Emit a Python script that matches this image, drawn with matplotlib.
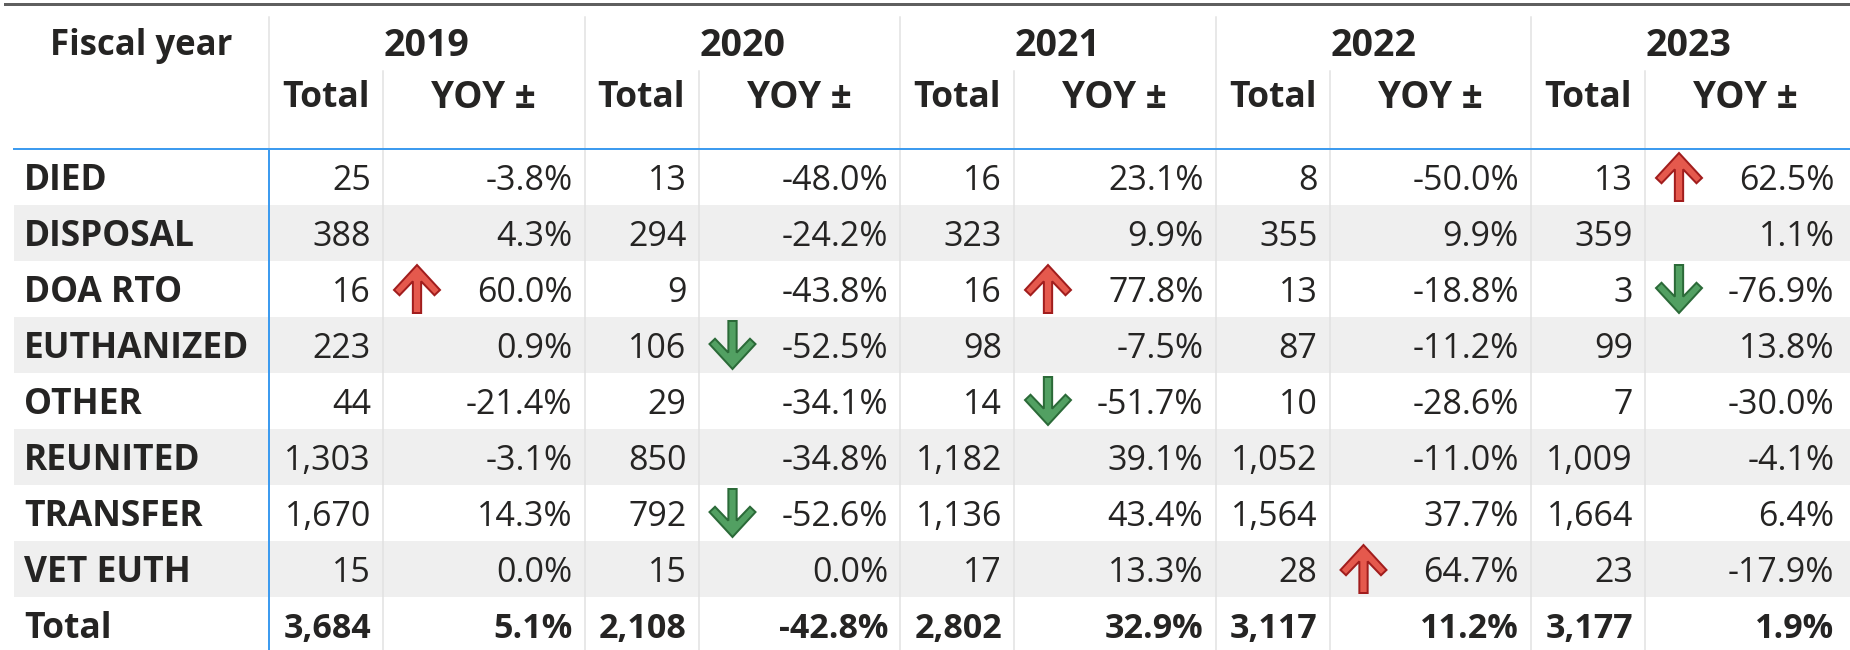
import matplotlib.pyplot as plt
from matplotlib.patches import Polygon, Rectangle

# --- datos ---
categories = ["DIED", "DISPOSAL", "DOA RTO", "EUTHANIZED", "OTHER",
              "REUNITED", "TRANSFER", "VET EUTH"]
years = ["2019", "2020", "2021", "2022", "2023"]

total_2019 = [25, 388, 16, 223, 44, 1303, 1670, 15]
total_2020 = [13, 294, 9, 106, 29, 850, 792, 15]
total_2021 = [16, 323, 16, 98, 14, 1182, 1136, 17]
total_2022 = [8, 355, 13, 87, 10, 1052, 1564, 28]
total_2023 = [13, 359, 3, 99, 7, 1009, 1664, 23]

yoy_2019 = [-3.8, 4.3, 60.0, 0.9, -21.4, -3.1, 14.3, 0.0]
yoy_2020 = [-48.0, -24.2, -43.8, -52.5, -34.1, -34.8, -52.6, 0.0]
yoy_2021 = [23.1, 9.9, 77.8, -7.5, -51.7, 39.1, 43.4, 13.3]
yoy_2022 = [-50.0, 9.9, -18.8, -11.2, -28.6, -11.0, 37.7, 64.7]
yoy_2023 = [62.5, 1.1, -76.9, 13.8, -30.0, -4.1, 6.4, -17.9]

grand_totals = [3684, 2108, 2802, 3117, 3177]
grand_yoy = [5.1, -42.8, 32.9, 11.2, 1.9]

totals = [total_2019, total_2020, total_2021, total_2022, total_2023]
yoys = [yoy_2019, yoy_2020, yoy_2021, yoy_2022, yoy_2023]

# --- estilo / layout (pixeles) ---
W, H = 1850, 650
FONT = "Open Sans"
FS = 24.5      # valores
FS_LAB = 25.5  # etiquetas de fila
FS_HEAD = 26.5 # encabezados
TXT = "#252423"
BAND = "#efefef"
SEP = "#e1e1e1"
BLUE = "#3d9bef"

left = 14
col0_end = 269
group_w = 315.5
tot_w = 114
header_y = 149
row_h = 56
pad = 12

fig = plt.figure(figsize=(W / 100, H / 100), dpi=100)
ax = fig.add_axes([0, 0, 1, 1])
ax.set_xlim(0, W)
ax.set_ylim(H, 0)
ax.axis("off")


def px(p):
    return p * 0.72


def arrow(cx, cy, up=True):
    w, h = 46, 48
    shape = [(0, 0.5), (0.5, -0.02), (0.38, -0.13), (0.09, 0.16),
             (0.09, -0.5), (-0.09, -0.5), (-0.09, 0.16), (-0.38, -0.13),
             (-0.5, -0.02)]
    s = -1 if up else 1
    pts = [(cx + u * w, cy + s * v * h) for u, v in shape]
    if up:
        fc, ec = "#e5594d", "#a11d1d"
    else:
        fc, ec = "#52a062", "#2b6a38"
    ax.add_patch(Polygon(pts, closed=True, fc=fc, ec=ec, lw=px(2), zorder=5))


n_rows = len(categories) + 1
# bandas grises
for i in range(n_rows):
    if i % 2 == 1:
        ax.add_patch(Rectangle((left, header_y + i * row_h), W - left, row_h,
                               fc=BAND, ec="none", zorder=1))

# linea superior
ax.plot([5, W], [4, 4], color="#5f5f5f", lw=px(3), zorder=3)

# separadores verticales
ax.plot([col0_end, col0_end], [17, header_y], color=SEP, lw=px(1.5), zorder=2)
for g in range(len(years)):
    gx = col0_end + g * group_w
    if g > 0:
        ax.plot([gx, gx], [17, H], color=SEP, lw=px(1.5), zorder=2)
    ax.plot([gx + tot_w, gx + tot_w], [71, H], color=SEP, lw=px(1.5), zorder=2)

# lineas azules
ax.plot([left, W], [header_y, header_y], color=BLUE, lw=px(2), zorder=4)
ax.plot([col0_end, col0_end], [header_y, H], color=BLUE, lw=px(2), zorder=4)

# encabezados
ax.text((left + col0_end) / 2, 46, "Fiscal year", family=FONT, fontsize=25,
        fontweight="bold", color=TXT, ha="center", va="center")
for g, yr in enumerate(years):
    gx = col0_end + g * group_w
    ax.text(gx + group_w / 2, 46, yr, family=FONT, fontsize=27, fontweight="bold",
            color=TXT, ha="center", va="center")
    ax.text(gx + tot_w / 2, 98, "Total", family=FONT, fontsize=25.5, fontweight="bold",
            color=TXT, ha="center", va="center")
    ax.text(gx + tot_w + (group_w - tot_w) / 2, 98, "YOY ±", family=FONT,
            fontsize=FS_HEAD, fontweight="bold", color=TXT, ha="center", va="center")

# filas
labels = categories + ["Total"]
for i, lab in enumerate(labels):
    cy = header_y + i * row_h + row_h / 2
    base = cy + 12.5
    is_total = lab == "Total"
    ax.text(24, base, lab, family=FONT, fontsize=FS_LAB, fontweight="bold", color=TXT,
            ha="left", va="baseline")
    for g in range(len(years)):
        gx = col0_end + g * group_w
        if is_total:
            t, y = grand_totals[g], grand_yoy[g]
        else:
            t, y = totals[g][i], yoys[g][i]
        vw = "bold" if is_total else "normal"
        ax.text(gx + tot_w - pad, base, f"{t:,}", family=FONT, fontsize=FS,
                fontweight=vw, color=TXT, ha="right", va="baseline")
        ax.text(gx + group_w - pad, base, f"{y:.1f}%", family=FONT, fontsize=FS,
                fontweight=vw, color=TXT, ha="right", va="baseline")
        if not is_total:
            if y > 50:
                arrow(gx + tot_w + 34, cy, up=True)
            elif y < -50:
                arrow(gx + tot_w + 34, cy, up=False)

fig.savefig("out.png", dpi=100)
